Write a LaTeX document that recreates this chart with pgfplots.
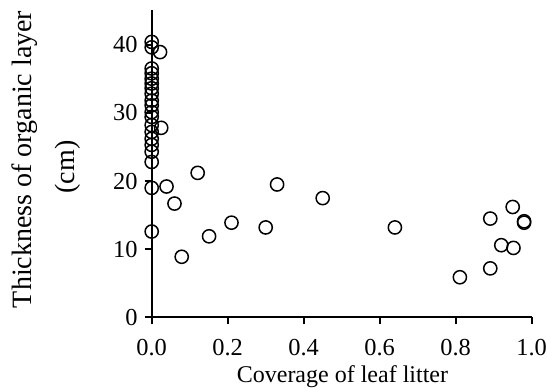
\documentclass[border=0pt]{standalone}
\usepackage{fontspec}
\setmainfont{Liberation Serif}
\usepackage{pgfplots}
\pgfplotsset{compat=1.18}
\begin{document}
\begin{tikzpicture}
\path[use as bounding box] (-75.85pt,-36.25pt) rectangle (197.65pt,158.75pt);
\begin{axis}[
  scale only axis, width=190pt, height=153.5pt,
  xmin=0, xmax=1, ymin=0, ymax=45,
  axis lines=left, axis line style={-, line width=1pt},
  tick align=outside, major tick length=3.5pt,
  tick style={line width=1pt, black},
  xtick={0,0.2,0.4,0.6,0.8,1}, ytick={0,10,20,30,40},
  xticklabel style={/pgf/number format/.cd, fixed, fixed zerofill, precision=1, /tikz/.cd, yshift=-4pt},
  /pgf/number format/assume math mode=true,
  ticklabel style={font=\fontsize{12.2}{14}\selectfont},
  xlabel={Coverage of leaf litter},
  xlabel style={font=\fontsize{12}{14}\selectfont, at={(axis description cs:0.502,0)}, anchor=base, yshift=-32.5pt},
  clip=false,
]
\addplot[only marks, mark=o, mark size=3.3pt, mark options={line width=0.75pt, black}] coordinates {
(0,40.4) (0,39.6) (0,36.5) (0,35.8) (0,35.0) (0,34.3) (0,33.6) (0,32.8)
(0,31.8) (0,31.1) (0,30.1) (0,29.4) (0,28.2) (0,27.2) (0,26.2) (0,25.3)
(0,24.3) (0,22.8) (0,19.0) (0,12.6)
(0.022,38.9) (0.025,27.8) (0.039,19.2) (0.06,16.7) (0.079,8.9) (0.121,21.2)
(0.151,11.9) (0.21,13.9) (0.30,13.2) (0.33,19.5) (0.45,17.5) (0.64,13.2)
(0.811,5.9) (0.891,14.5) (0.891,7.2) (0.92,10.6) (0.952,10.2) (0.95,16.2)
(0.98,14.1) (0.98,13.9)
};
\node[rotate=90, font=\fontsize{14}{16}\selectfont] at (rel axis cs:-0.333,0.515) {Thickness of organic layer};
\node[rotate=90, font=\fontsize{14}{16}\selectfont] at (rel axis cs:-0.222,0.49) {(cm)};
\end{axis}
\end{tikzpicture}
\end{document}
